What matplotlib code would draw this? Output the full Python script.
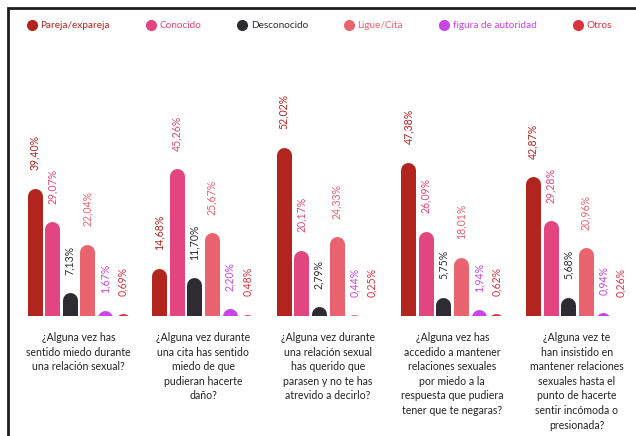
import matplotlib.pyplot as plt
from matplotlib.lines import Line2D
from matplotlib.patches import Rectangle

plt.rcParams['font.family'] = ['Lato', 'DejaVu Sans']

categories = ['Pareja/expareja', 'Conocido', 'Desconocido', 'Ligue/Cita',
              'figura de autoridad', 'Otros']
colors = ['#b2241e', '#e2457f', '#2f2b33', '#ea6470', '#c845e8', '#dc3340']

questions = [
    '¿Alguna vez has\nsentido miedo durante\nuna relación sexual?',
    '¿Alguna vez durante\nuna cita has sentido\nmiedo de que\npudieran hacerte\ndaño?',
    '¿Alguna vez durante\nuna relación sexual\nhas querido que\nparasen y no te has\natrevido a decirlo?',
    '¿Alguna vez has\naccedido a mantener\nrelaciones sexuales\npor miedo a la\nrespuesta que pudiera\ntener que te negaras?',
    '¿Alguna vez te\nhan insistido en\nmantener relaciones\nsexuales hasta el\npunto de hacerte\nsentir incómoda o\npresionada?',
]

pareja = [39.40, 14.68, 52.02, 47.38, 42.87]
conocido = [29.07, 45.26, 20.17, 26.09, 29.28]
desconocido = [7.13, 11.70, 2.79, 5.75, 5.68]
ligue = [22.04, 25.67, 24.33, 18.01, 20.96]
figura = [1.67, 2.20, 0.44, 1.94, 0.94]
otros = [0.69, 0.48, 0.25, 0.62, 0.26]
series = [pareja, conocido, desconocido, ligue, figura, otros]

W, H = 636, 436
fig = plt.figure(figsize=(W / 100, H / 100), dpi=100)

# axes in pixel-ish layout: baseline at 316px from top
base_px, top_px = 316, 60
ymax = 78.8
ax = fig.add_axes([0, 1 - base_px / H, 1, (base_px - top_px) / H])
ax.set_xlim(0, W)
ax.set_ylim(0, ymax)
ax.axis('off')

px_per_unit = (base_px - top_px) / ymax
bar_px = 15
r = (bar_px / 2) / px_per_unit  # round cap height in data units

first, step, group = 34.5, 17.6, 124.6
for j, (vals, c) in enumerate(zip(series, colors)):
    xs = [first + g * group + j * step for g in range(len(vals))]
    ax.vlines(xs, [-r] * len(vals), [v - r for v in vals], colors=c,
              linewidth=bar_px * 72 / 100, capstyle='round')
    for x, v in zip(xs, vals):
        ax.annotate(f'{v:.2f}'.replace('.', ',') + '%', (x, v),
                    xytext=(0, 13), textcoords='offset points', rotation=90,
                    ha='center', va='bottom', fontsize=7.6, color=c)

for g, q in enumerate(questions):
    ax.text(first + g * group + 2.5 * step, -16 / (base_px - top_px), q,
            transform=ax.get_xaxis_transform(), ha='center', va='top',
            fontsize=7.6, color='#222222', linespacing=1.4)

handles = [Line2D([], [], marker='o', ls='', color=c, markersize=7)
           for c in colors]
leg = fig.legend(handles, categories, loc='center left',
                 bbox_to_anchor=(22 / W, 1 - 26 / H), ncol=6, frameon=False,
                 fontsize=7.2, handletextpad=0.35, columnspacing=3.6,
                 handlelength=1.0, borderpad=0)
for t, c in zip(leg.get_texts(), colors):
    t.set_color(c)

# frame lines top and left
fig.add_artist(Rectangle((8 / W, -0.1), 1.2, (H - 8) / H + 0.1,
                         transform=fig.transFigure, fill=False,
                         edgecolor='#1e1e1e', linewidth=2))

fig.savefig('out.png', dpi=100)
